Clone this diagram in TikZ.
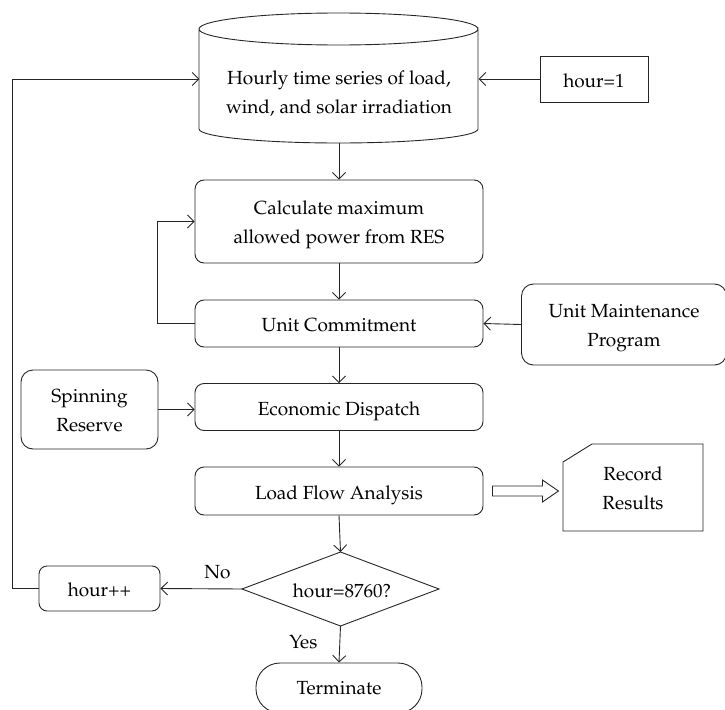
\documentclass[tikz,border=0pt]{standalone}
\usepackage[T1]{fontenc}
\usepackage{mathpazo}
\usetikzlibrary{arrows.meta,calc}
\begin{document}
\begin{tikzpicture}[x=1pt,y=-1pt,
  every node/.style={font=\fontsize{19}{29}\selectfont, align=center, inner sep=0pt},
  line/.style={draw=black!85, line width=0.9pt},
  arr/.style={line, -{Straight Barb[length=6.5pt,width=13pt,line width=0.9pt]}},
  proc/.style={line, rounded corners=9pt, minimum width=288pt},
  side/.style={line, rounded corners=12pt},
  plain/.style={line},
  oneline/.style={text height=16pt, text depth=0pt},
  twolines/.style={text height=43pt, text depth=0pt}]
\useasboundingbox (0,0) rectangle (725,709);

% data store (cylinder)
\node (db) at (339,94) [minimum width=279pt, minimum height=98pt]
  {Hourly time series of load,\\wind, and solar irradiation};
\draw[line] (199,29) -- (199,129) arc[start angle=180, end angle=0, x radius=139.5, y radius=14]
  -- (478,29) arc[start angle=0, end angle=360, x radius=139.5, y radius=16];

\node[plain, oneline, minimum width=108pt, minimum height=46pt] (h1) at (594,79) {hour=1};

\node[proc, twolines, minimum height=83pt] (calc) at (339,221.5) {Calculate maximum\\allowed power from RES};
\node[proc, oneline, minimum height=47pt] (uc) at (339,323.5) {Unit Commitment};
\node[side, twolines, minimum width=205pt, minimum height=81pt] (ump) at (624,324.5) {Unit Maintenance\\Program};
\node[proc, oneline, minimum height=47pt] (ed) at (339,407) {Economic Dispatch};
\node[side, twolines, minimum width=137pt, minimum height=79pt] (sr) at (89.5,409.5) {Spinning\\Reserve};
\node[proc, oneline, minimum height=48pt] (lf) at (339,491) {Load Flow Analysis};

% record results (card with cut corner)
\node (rec) at (633,487.5) [twolines, minimum width=140pt, minimum height=87pt] {Record\\Results};
\draw[line] (563,462) -- (592,444) -- (703,444) -- (703,531) -- (563,531) -- cycle;

% decision
\node (dec) at (342,589) [oneline] {hour=8760?};
\draw[line] (242,589) coordinate (decw) -- (340.5,552) coordinate (decn)
  -- (439,589) -- (340.5,626) coordinate (decs) -- cycle;

\node[side, oneline, rounded corners=8pt, minimum width=121pt, minimum height=45pt] (hpp) at (99.5,588.5) {hour++};
\node[line, text height=12pt, text depth=0pt, rounded corners=24pt, minimum width=166pt, minimum height=50pt] (term) at (339,688) {Terminate};

% main flow
\draw[arr] (db.south) -- (calc.north);
\draw[arr] (calc.south) -- (uc.north);
\draw[arr] (uc.south) -- (ed.north);
\draw[arr] (ed.south) -- (lf.north);
\draw[arr] (lf.south) -- (decn);
\draw[arr] (decs) -- node[left=22pt, pos=0.45] {Yes} (term.north);
\draw[arr] (decw) -- node[above=9pt, pos=0.3] {No} (hpp.east);

% side inputs
\draw[arr] (h1.west) -- (db.east |- h1.west);
\draw[arr] (ump.west) -- (uc.east);
\draw[arr] (sr.east) -- (sr.east -| ed.west);

% loops
\draw[arr] (uc.west) -- ++(-37,0) coordinate (ucl) |- (calc.west);
\draw[arr] (hpp.west) -- (12,588.5) coordinate (lp) -- (12,79) -- (db.west |- 0,79);

% hollow arrow to results
\draw[line] ($(lf.east)+(9,-5)$) coordinate (da) -- ++(50,0) -- ++(0,-6) -- ++(16,11)
  -- ++(-16,11) -- ++(0,-6) -- ++(-50,0) -- cycle;
\end{tikzpicture}
\end{document}
